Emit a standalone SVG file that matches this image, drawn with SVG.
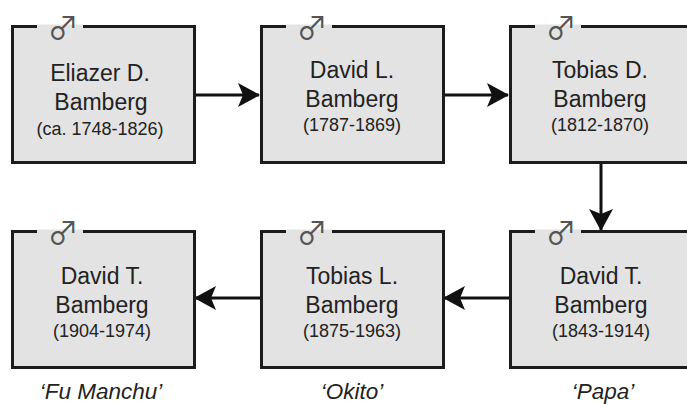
<svg xmlns="http://www.w3.org/2000/svg" width="687" height="404" viewBox="0 0 687 404">
<style>
text{font-family:"Liberation Sans",Arial,sans-serif;fill:#222;text-anchor:middle}
.box{fill:#e3e3e3;stroke:#1c1c1c;stroke-width:3}
.gap{fill:none;stroke:#e3e3e3;stroke-width:4}
.sym{font-family:"Noto Sans CJK SC",sans-serif;font-size:31px;fill:#555}
.n{font-size:23px}
.d{font-size:18px}
.nick{font-size:22.5px;font-style:italic}
.con{stroke:#111;stroke-width:3;fill:none}
</style>
<defs>
<marker id="ah" markerUnits="userSpaceOnUse" markerWidth="24" markerHeight="26" refX="21" refY="13" orient="auto"><path d="M0 1 L22 13 L0 25 L5 13Z" fill="#111"/></marker>
</defs>
<rect width="687" height="404" fill="#fff"/>
<g id="connectors">
<path class="con" d="M194 95H259" marker-end="url(#ah)"/>
<path class="con" d="M443 95H508" marker-end="url(#ah)"/>
<path class="con" d="M601 163V230" marker-end="url(#ah)"/>
<path class="con" d="M510 298H444" marker-end="url(#ah)"/>
<path class="con" d="M261 298H195" marker-end="url(#ah)"/>
</g>
<g id="n1"><rect class="box" x="12.5" y="26.5" width="182" height="136"/><path class="gap" d="M37 26.5H83"/><text class="sym" x="63" y="39">♂</text>
<text class="n" x="100" y="81">Eliazer D.</text><text class="n" x="101" y="110">Bamberg</text><text class="d" x="100" y="135">(ca. 1748-1826)</text></g>
<g id="n2"><rect class="box" x="261.5" y="26.5" width="182" height="136"/><path class="gap" d="M286 26.5H332"/><text class="sym" x="312" y="39">♂</text>
<text class="n" x="352" y="78">David L.</text><text class="n" x="352" y="107">Bamberg</text><text class="d" x="352" y="131">(1787-1869)</text></g>
<g id="n3"><rect class="box" x="510.5" y="26.5" width="182" height="136"/><path class="gap" d="M535 26.5H581"/><text class="sym" x="561" y="39">♂</text>
<text class="n" x="600" y="78">Tobias D.</text><text class="n" x="600" y="107">Bamberg</text><text class="d" x="600" y="131">(1812-1870)</text></g>
<g id="n4"><rect class="box" x="510.5" y="231.5" width="182" height="136"/><path class="gap" d="M535 231.5H581"/><text class="sym" x="561" y="244">♂</text>
<text class="n" x="601" y="284">David T.</text><text class="n" x="601" y="313">Bamberg</text><text class="d" x="601" y="337">(1843-1914)</text></g>
<g id="n5"><rect class="box" x="261.5" y="231.5" width="182" height="136"/><path class="gap" d="M286 231.5H332"/><text class="sym" x="312" y="244">♂</text>
<text class="n" x="352" y="284">Tobias L.</text><text class="n" x="352" y="313">Bamberg</text><text class="d" x="352" y="337">(1875-1963)</text></g>
<g id="n6"><rect class="box" x="12.5" y="231.5" width="182" height="136"/><path class="gap" d="M37 231.5H83"/><text class="sym" x="63" y="244">♂</text>
<text class="n" x="102" y="284">David T.</text><text class="n" x="102" y="313">Bamberg</text><text class="d" x="102" y="337">(1904-1974)</text></g>
<text class="nick" x="101" y="399">‘Fu Manchu’</text>
<text class="nick" x="352" y="399">‘Okito’</text>
<text class="nick" x="603" y="399">‘Papa’</text>
</svg>
